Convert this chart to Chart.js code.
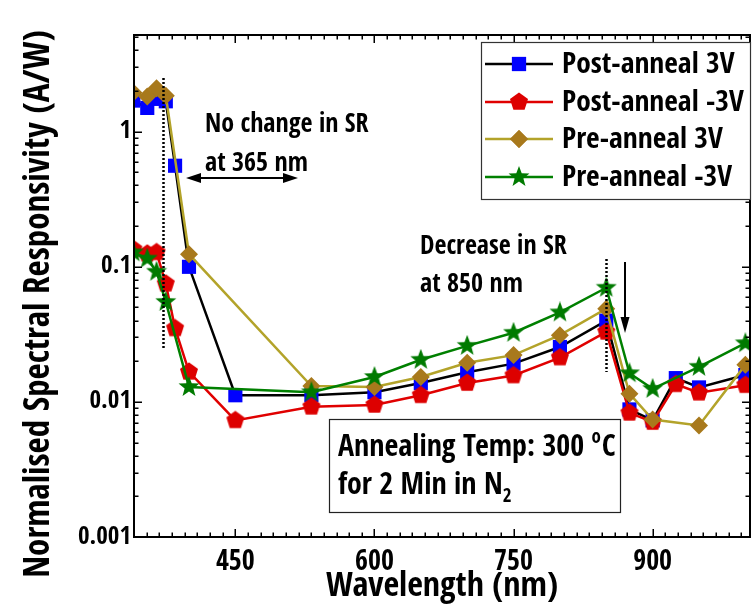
<!DOCTYPE html>
<html>
<head>
<meta charset="utf-8">
<script src="https://cdn.jsdelivr.net/npm/chart.js@4"></script>
<style>
  html, body { margin: 0; padding: 0; background: #fff; }
  #wrap { width: 752px; height: 608px; overflow: hidden; }
</style>
</head>
<body>
<div id="wrap"><canvas id="chart" width="760" height="608"></canvas></div>
<script>
/* Spectral responsivity, pre / post anneal (log scale) */

// wavelengths (nm)
const postWavelengths = [340, 355, 365, 375, 385, 400, 450, 532, 600, 650, 700, 750, 800, 850, 875, 900, 925, 950, 1000];
const preWavelengths = [340, 355, 365, 375, 400, 532, 600, 650, 700, 750, 800, 850, 875, 900, 950, 1000];

// normalised SR (A/W)
const postAnneal3V = [1.7, 1.5, 1.75, 1.68, 0.56, 0.1, 0.0112, 0.0112, 0.0118, 0.0138, 0.0166, 0.0192, 0.0255, 0.04, 0.0088, 0.0073, 0.015, 0.0128, 0.0158];
const postAnnealNeg3V = [0.135, 0.125, 0.128, 0.075, 0.035, 0.0167, 0.0073, 0.0092, 0.0095, 0.0112, 0.0138, 0.0157, 0.0213, 0.033, 0.0083, 0.0071, 0.0135, 0.0117, 0.0133];
const preAnneal3V = [1.95, 1.82, 2.1, 1.85, 0.124, 0.0131, 0.0129, 0.0153, 0.0195, 0.0222, 0.0312, 0.049, 0.0115, 0.0074, 0.0067, 0.0188];
const preAnnealNeg3V = [0.128, 0.115, 0.092, 0.055, 0.0129, 0.0118, 0.0153, 0.0205, 0.026, 0.0325, 0.046, 0.07, 0.0163, 0.0125, 0.0182, 0.0272];

const seriesLabels = ['Post-anneal 3V', 'Post-anneal -3V', 'Pre-anneal 3V', 'Pre-anneal -3V'];

// axes
const xMajor = [450, 600, 750, 900];
const yMajor = [0.001, 0.01, 0.1, 1];
const yTickLabels = ['0.001', '0.01', '0.1', '1'];
const X_MIN = 340.7, X_MAX = 1005;
const Y_MIN = 0.001, Y_MAX = 5.2;

const FONT = '"Open Sans Condensed", "Roboto Condensed", sans-serif';

function pts(xs, ys) {
  return xs.map((x, i) => ({ x, y: ys[i] }));
}

function markerImg(size, color, drawPath) {
  const c = document.createElement('canvas');
  c.width = size; c.height = size;
  const g = c.getContext('2d');
  g.fillStyle = color;
  g.beginPath();
  drawPath(g, size / 2, size / 2);
  g.closePath();
  g.fill();
  return c;
}

function polyPath(n, r, innerR) {
  return (g, cx, cy) => {
    const steps = innerR ? n * 2 : n;
    for (let i = 0; i < steps; i++) {
      const rr = innerR && i % 2 ? innerR : r;
      const a = -Math.PI / 2 + i * Math.PI * 2 / steps;
      const px = cx + rr * Math.cos(a), py = cy + rr * Math.sin(a);
      i ? g.lineTo(px, py) : g.moveTo(px, py);
    }
  };
}

const pentagon = markerImg(20, '#dd0000', polyPath(5, 9.5));
const star = markerImg(22, '#007a00', polyPath(5, 11, 4.6));

const COLORS = {
  post3: { line: '#000000', fill: '#0000ff' },
  postN3: { line: '#e00000', fill: '#dd0000' },
  pre3: { line: '#b3a32a', fill: '#a8791c' },
  preN3: { line: '#008000', fill: '#007a00' },
};

function ds(label, data, col, style, radius, order) {
  return {
    label, data, order,
    borderColor: col.line,
    backgroundColor: col.fill,
    pointBackgroundColor: col.fill,
    pointBorderColor: col.fill,
    pointBorderWidth: 0,
    pointStyle: style,
    pointRadius: radius,
    borderWidth: 2.5,
    tension: 0,
  };
}

const datasets = [
  ds(seriesLabels[0], pts(postWavelengths, postAnneal3V), COLORS.post3, 'rect', 10, 3),
  ds(seriesLabels[1], pts(postWavelengths, postAnnealNeg3V), COLORS.postN3, pentagon, 9, 2),
  ds(seriesLabels[2], pts(preWavelengths, preAnneal3V), COLORS.pre3, 'rectRot', 9, 1),
  ds(seriesLabels[3], pts(preWavelengths, preAnnealNeg3V), COLORS.preN3, star, 10, 0),
];

function arrowHead(ctx, x, y, ang, len, half) {
  ctx.beginPath();
  ctx.moveTo(x, y);
  ctx.lineTo(x - len * Math.cos(ang) + half * Math.sin(ang), y - len * Math.sin(ang) - half * Math.cos(ang));
  ctx.lineTo(x - len * Math.cos(ang) - half * Math.sin(ang), y - len * Math.sin(ang) + half * Math.cos(ang));
  ctx.closePath();
  ctx.fill();
}

const decorations = {
  id: 'decorations',
  afterDraw(chart) {
    const { ctx, chartArea: a, scales: { x, y } } = chart;
    ctx.save();
    ctx.strokeStyle = '#000';
    ctx.fillStyle = '#000';

    // ticks on all four sides, pointing inward
    const xMinor = [];
    for (let k = -8; k < 50; k++) {
      const v = 450 + k * 150 / 11;
      if (v >= X_MIN && v <= X_MAX && k % 11 !== 0) xMinor.push(v);
    }
    const yMinor = [];
    for (let e = -3; e <= 0; e++) for (let m = 2; m <= 9; m++) {
      const v = m * Math.pow(10, e);
      if (v < Y_MAX) yMinor.push(v);
    }
    ctx.lineWidth = 1.5;
    ctx.beginPath();
    const xt = (v, len) => {
      const px = Math.round(x.getPixelForValue(v)) + 0.25;
      ctx.moveTo(px, a.bottom); ctx.lineTo(px, a.bottom - len);
      ctx.moveTo(px, a.top); ctx.lineTo(px, a.top + len);
    };
    const yt = (v, len) => {
      const py = Math.round(y.getPixelForValue(v)) + 0.25;
      ctx.moveTo(a.left, py); ctx.lineTo(a.left + len, py);
      ctx.moveTo(a.right, py); ctx.lineTo(a.right - len, py);
    };
    xMajor.forEach(v => xt(v, 8));
    xMinor.forEach(v => xt(v, 4.5));
    yMajor.forEach(v => yt(v, 8));
    yMinor.forEach(v => yt(v, 4.5));
    ctx.stroke();

    // frame
    ctx.lineWidth = 2;
    ctx.strokeRect(a.left, a.top, a.right - a.left, a.bottom - a.top);

    // y title
    ctx.save();
    ctx.translate(40, 304);
    ctx.rotate(-Math.PI / 2);
    ctx.font = 'bold 35px ' + FONT;
    ctx.textAlign = 'center';
    ctx.textBaseline = 'middle';
    ctx.fillText('Normalised Spectral Responsivity (A/W)', 0, 0);
    ctx.restore();

    // dotted markers near 365 nm and 850 nm
    ctx.lineWidth = 2.5;
    ctx.setLineDash([2, 2]);
    ctx.beginPath();
    const x365 = Math.round(x.getPixelForValue(371.5)) + 0.5;
    ctx.moveTo(x365, 78); ctx.lineTo(x365, 349);
    const x850 = Math.round(x.getPixelForValue(850)) + 0.5;
    ctx.moveTo(x850, 259); ctx.lineTo(x850, 372);
    ctx.stroke();
    ctx.setLineDash([]);

    // arrows
    ctx.lineWidth = 2;
    ctx.beginPath();
    ctx.moveTo(193, 178); ctx.lineTo(290, 178);
    ctx.moveTo(625, 262); ctx.lineTo(625, 318);
    ctx.stroke();
    arrowHead(ctx, 186, 178, Math.PI, 15, 5);
    arrowHead(ctx, 298, 178, 0, 15, 5);
    arrowHead(ctx, 625, 333, Math.PI / 2, 16, 4.5);

    // annotation text
    ctx.font = 'bold 26px ' + FONT;
    ctx.textAlign = 'left';
    ctx.textBaseline = 'alphabetic';
    ctx.fillText('No change in SR', 205, 132);
    ctx.fillText('at 365 nm', 205, 171);
    ctx.fillText('Decrease in SR', 420, 254);
    ctx.fillText('at 850 nm', 420, 292);

    // annealing box
    ctx.fillStyle = '#fff';
    ctx.fillRect(329, 419, 291, 93);
    ctx.lineWidth = 1.2;
    ctx.strokeStyle = '#222';
    ctx.strokeRect(329.5, 419.5, 291, 93);
    ctx.fillStyle = '#000';
    ctx.font = 'bold 30px ' + FONT;
    const t1 = 'Annealing Temp: 300 ';
    ctx.fillText(t1, 338, 456);
    let w = ctx.measureText(t1).width;
    ctx.font = 'bold 19px ' + FONT;
    ctx.fillText('o', 338 + w, 443);
    w += ctx.measureText('o').width + 1;
    ctx.font = 'bold 30px ' + FONT;
    ctx.fillText('C', 338 + w, 456);
    const t2 = 'for 2 Min in N';
    ctx.fillText(t2, 338, 494);
    w = ctx.measureText(t2).width;
    ctx.font = 'bold 19px ' + FONT;
    ctx.fillText('2', 338 + w, 502);

    // legend
    const L = { left: 481, top: 42, right: 750, bottom: 199 };
    ctx.fillStyle = '#fff';
    ctx.fillRect(L.left, L.top, L.right - L.left, L.bottom - L.top);
    ctx.lineWidth = 1.2;
    ctx.strokeStyle = '#333';
    ctx.strokeRect(L.left + 0.5, L.top + 0.5, L.right - L.left, L.bottom - L.top);
    ctx.font = 'bold 29.5px ' + FONT;
    ctx.textBaseline = 'middle';
    const rows = [64, 102, 139, 177];
    chart.data.datasets.forEach((d, i) => {
      const ry = rows[i];
      ctx.strokeStyle = d.borderColor;
      ctx.lineWidth = d.borderWidth;
      ctx.beginPath();
      ctx.moveTo(485, ry); ctx.lineTo(553, ry);
      ctx.stroke();
      ctx.fillStyle = d.backgroundColor;
      ctx.beginPath();
      Chart.helpers.drawPoint(ctx, { pointStyle: d.pointStyle, radius: d.pointRadius, rotation: 0, borderWidth: 0 }, 519, ry);
      if (typeof d.pointStyle === 'string') ctx.fill();
      ctx.fillStyle = '#000';
      ctx.fillText(d.label, 562, ry + 1);
    });
    ctx.restore();
  },
};

new Chart(document.getElementById('chart'), {
  type: 'line',
  data: { datasets },
  options: {
    responsive: false,
    animation: false,
    devicePixelRatio: 1,
    layout: { padding: { top: 35, right: 6, left: 0, bottom: 0 } },
    plugins: { legend: { display: false }, tooltip: { enabled: false } },
    scales: {
      x: {
        type: 'linear',
        min: X_MIN,
        max: X_MAX,
        grid: { display: false, drawTicks: false },
        border: { display: false },
        afterBuildTicks: (s) => { s.ticks = xMajor.map((v) => ({ value: v })); },
        afterFit: (s) => { s.height = 71; },
        ticks: {
          color: '#000',
          padding: 9,
          maxRotation: 0,
          autoSkip: false,
          font: { family: FONT, size: 28, weight: 'bold' },
          callback: (v) => String(v),
        },
        title: {
          display: true,
          text: 'Wavelength (nm)',
          color: '#000',
          font: { family: FONT, size: 34, weight: 'bold' },
          padding: { top: 1, bottom: 0 },
        },
      },
      y: {
        type: 'logarithmic',
        min: Y_MIN,
        max: Y_MAX,
        grid: { display: false, drawTicks: false },
        border: { display: false },
        afterBuildTicks: (s) => { s.ticks = yMajor.map((v) => ({ value: v })); },
        afterFit: (s) => { s.width = 134; },
        ticks: {
          color: '#000',
          padding: 3,
          autoSkip: false,
          font: { family: FONT, size: 25, weight: 'bold' },
          callback: (v) => yTickLabels[yMajor.indexOf(v)],
        },
      },
    },
  },
  plugins: [decorations],
});
</script>
</body>
</html>
